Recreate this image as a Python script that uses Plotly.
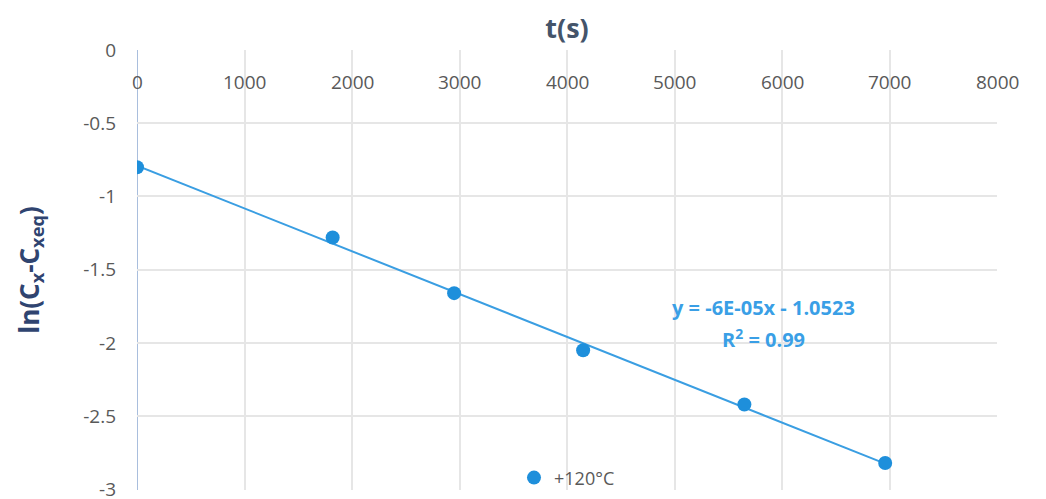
import numpy as np
import plotly.graph_objects as go

# Measured series at +120°C
time_s = [0, 1820, 2950, 4150, 5650, 6960]
ln_conc = [-0.80, -1.28, -1.66, -2.05, -2.42, -2.82]
series_name = "+120°C"
fit_lines = ["y = -6E-05x - 1.0523", "R<sup>2</sup> = 0.99"]
x_ticks = [0, 1000, 2000, 3000, 4000, 5000, 6000, 7000, 8000]
y_ticks = [0, -0.5, -1, -1.5, -2, -2.5, -3]

# Least-squares trend line through the measurements
slope, intercept = np.polyfit(time_s, ln_conc, 1)
fit_x = np.array([min(time_s), max(time_s)])
fit_y = slope * fit_x + intercept

point_color = "#1E8FDB"
line_color = "#3A9EE2"
tick_color = "#595959"
font_family = "'Open Sans', sans-serif"


def fmt(v):
    # plain hyphen for negatives, no trailing ".0"
    return f"{v:g}".replace("\u2212", "-")


fig = go.Figure()
fig.add_trace(go.Scatter(
    x=fit_x, y=fit_y, mode="lines",
    line=dict(color=line_color, width=2),
    showlegend=False, hoverinfo="skip",
))
fig.add_trace(go.Scatter(
    x=time_s, y=ln_conc, mode="markers", name=series_name,
    marker=dict(color=point_color, size=14),
))

# Trend line equation, one annotation per line for wider line spacing
for i, line in enumerate(fit_lines):
    fig.add_annotation(
        x=5830, y=-1.86, xref="x", yref="y", yshift=15 - 31 * i,
        text=f"<b>{line}</b>", showarrow=False, align="center",
        font=dict(family=font_family, size=20, color="#3A9FE6"),
    )

# Time-axis labels sit just under the top axis line
for t in x_ticks:
    fig.add_annotation(
        x=t, y=1, xref="x", yref="y domain", yanchor="middle", yshift=-32,
        text=fmt(t), showarrow=False,
        font=dict(family=font_family, size=19, color=tick_color),
    )

fig.update_layout(
    width=1046, height=499,
    margin=dict(l=137, r=49, t=50, b=0),
    paper_bgcolor="white", plot_bgcolor="white",
    font=dict(family=font_family, color=tick_color),
    legend=dict(
        orientation="h", x=0.5, xanchor="center",
        y=0.047, yanchor="middle",
        font=dict(size=18, color=tick_color), bgcolor="rgba(0,0,0,0)",
    ),
    xaxis=dict(
        side="top", range=[0, 8000], tickvals=x_ticks,
        showticklabels=False, ticks="",
        showgrid=True, gridcolor="#E6E6E6", gridwidth=1.5,
        zeroline=False, showline=False,
        title=dict(text="<b>t(s)</b>", font=dict(size=27, color="#44546A"), standoff=2),
        automargin=False,
    ),
    yaxis=dict(
        domain=[0.02, 1],
        range=[-3.004, 0], tickvals=y_ticks, ticktext=[fmt(v) for v in y_ticks],
        tickfont=dict(size=19, color=tick_color), ticks="",
        ticklabelstandoff=20, ticklabeloverflow="allow",
        showgrid=True, gridcolor="#E6E6E6", gridwidth=1.5,
        zeroline=False, showline=False,
        title=dict(text="<b>ln(C<sub>x</sub>-C<sub>xeq</sub>)</b>",
                   font=dict(size=26, color="#2F4470"), standoff=36),
        automargin=False,
    ),
)

# Vertical value axis drawn at t = 0
fig.add_shape(type="line", xref="x", yref="y domain", x0=0, x1=0, y0=0, y1=1,
              line=dict(color="#A9BEDD", width=2), layer="below")

fig.write_html("out.html")
